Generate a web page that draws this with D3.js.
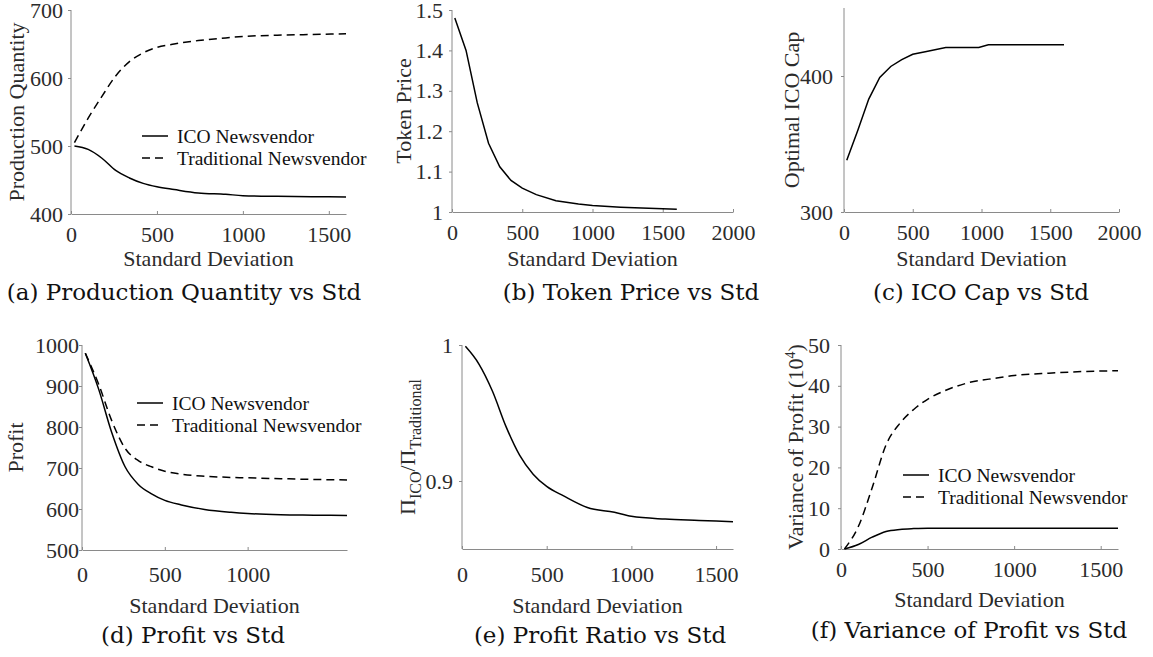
<!DOCTYPE html>
<html>
<head>
<meta charset="utf-8">
<script src="https://cdn.jsdelivr.net/npm/d3@7"></script>
<style>
  body { margin: 0; background: #fff; }
  svg { display: block; }
</style>
</head>
<body>
<svg id="fig" width="1153" height="657"></svg>
<script>
// values
const stdDev      = [20, 100, 180, 260, 340, 420, 500, 600, 740, 900, 1000, 1200, 1400, 1600];
const qtyICO      = [500, 495, 482, 464, 453, 445, 440, 436, 431, 429, 427, 426, 425.5, 425];
const qtyTrad     = [505, 541, 573, 603, 624, 637, 645, 650, 655, 659, 661, 663, 664, 665];
const tokenPrice  = [1.48, 1.40, 1.27, 1.17, 1.112, 1.078, 1.059, 1.043, 1.028, 1.02, 1.016, 1.012, 1.009, 1.007];
const capStd      = [20, 100, 180, 260, 340, 420, 500, 600, 740, 980, 1050, 1600];
const icoCap      = [338, 360, 383, 399, 407, 412, 416, 418, 421, 421, 423, 423];
const profitICO   = [980, 893, 786, 703, 660, 637, 621, 610, 599, 592, 589, 586, 585, 584];
const profitTrad  = [980, 905, 815, 748, 718, 703, 692, 685, 680, 677, 676, 674, 672, 671];
const profitRatio = [0.999, 0.986, 0.966, 0.940, 0.919, 0.905, 0.896, 0.889, 0.8805, 0.877, 0.874, 0.872, 0.871, 0.870];
const varICO      = [0, 1.1, 2.9, 4.3, 4.8, 5.0, 5.1, 5.1, 5.1, 5.1, 5.1, 5.1, 5.1, 5.1];
const varTrad     = [0, 5.5, 15, 25.5, 30.8, 34.2, 36.7, 38.8, 40.8, 41.9, 42.5, 43.1, 43.5, 43.7];

const xTicks1600   = [0, 500, 1000, 1500];
const xTicks2000   = [0, 500, 1000, 1500, 2000];
const xTicksProfit = [0, 500, 1000];
const yTicksQty    = [400, 500, 600, 700];
const yTicksPrice  = [1, 1.1, 1.2, 1.3, 1.4, 1.5];
const yTicksCap    = [300, 400];
const yTicksProfit = [500, 600, 700, 800, 900, 1000];
const yTicksRatio  = [0.9, 1];
const yTicksVar    = [0, 10, 20, 30, 40, 50];

const legendNames = ["ICO Newsvendor", "Traditional Newsvendor"];
const xTitle = "Standard Deviation";

const SERIF = "'Liberation Serif', 'Times New Roman', serif";
const CAPTION_FONT = "'DejaVu Serif', serif";
const AXIS_COLOR = "#8a8a8a";
const TEXT_COLOR = "#2b2b2b";
const DASH = "8,5";

const svg = d3.select("svg#fig");
const zip = (xs, ys) => xs.map((x, i) => [x, ys[i]]);
const trimNum = d => (+d.toFixed(2)).toString();

function panel(p) {
	const x = d3.scaleLinear().domain(p.xDomain).range([p.left, p.right]);
	const y = d3.scaleLinear().domain(p.yDomain).range([p.bottom, p.top]);
	const g = svg.append("g");

	const yAxis = d3.axisLeft(y).tickValues(p.yTicks).tickFormat(p.yFormat || trimNum)
		.tickSize(3).tickSizeOuter(0).tickPadding(p.yPad);
	const xAxis = d3.axisBottom(x).tickValues(p.xTicks).tickFormat(trimNum)
		.tickSize(-3).tickSizeOuter(0).tickPadding(p.xPad);

	const gy = g.append("g").attr("transform", `translate(${p.left},0)`).call(yAxis);
	const gx = g.append("g").attr("transform", `translate(0,${p.bottom})`).call(xAxis);
	[gx, gy].forEach(a => {
		a.attr("font-family", SERIF).attr("font-size", 22);
		a.selectAll("path, line").attr("stroke", AXIS_COLOR);
		a.selectAll("text").attr("fill", TEXT_COLOR);
	});
	// the y axis line should reach the top of the domain only
	gy.select("path.domain").attr("d", `M0,${p.top}V${p.bottom}`);

	const line = d3.line().x(d => x(d[0])).y(d => y(d[1])).curve(p.curve || d3.curveMonotoneX);
	p.series.forEach(s => {
		g.append("path").datum(s.data)
			.attr("fill", "none").attr("stroke", "#000").attr("stroke-width", 1.5)
			.attr("stroke-dasharray", s.dashed ? DASH : null)
			.attr("d", line);
	});

	// axis titles
	g.append("text").attr("x", (p.left + p.right) / 2).attr("y", p.xTitleY)
		.attr("text-anchor", "middle").attr("font-family", SERIF).attr("font-size", 22)
		.attr("fill", TEXT_COLOR).text(xTitle);
	const yt = g.append("text")
		.attr("transform", `translate(${p.yTitleX},${(p.top + p.bottom) / 2}) rotate(-90)`)
		.attr("text-anchor", "middle").attr("font-family", SERIF).attr("font-size", 22)
		.attr("fill", TEXT_COLOR);
	if (typeof p.yTitle === "string") yt.text(p.yTitle);
	else p.yTitle(yt);

	// legend
	if (p.legend) {
		legendNames.forEach((name, i) => {
			const cy = p.legend.y + i * 22;
			g.append("line").attr("x1", p.legend.x).attr("x2", p.legend.x + 26)
				.attr("y1", cy).attr("y2", cy)
				.attr("stroke", "#000").attr("stroke-width", 1.5)
				.attr("stroke-dasharray", i ? DASH : null);
			g.append("text").attr("x", p.legend.x + 35).attr("y", cy).attr("dy", "0.35em")
				.attr("font-family", SERIF).attr("font-size", 19.5).attr("fill", "#111").text(name);
		});
	}

	// sub-figure caption
	g.append("text").attr("x", p.capX).attr("y", p.capY).attr("text-anchor", "middle")
		.attr("font-family", CAPTION_FONT).attr("font-size", 23).attr("fill", "#111").text(p.caption);
}

panel({
	left: 71, right: 346, top: 10, bottom: 214,
	xDomain: [0, 1600], yDomain: [400, 700], xTicks: xTicks1600, yTicks: yTicksQty,
	yPad: 5, xPad: 12.5, xTitleY: 266, yTitleX: 24, yTitle: "Production Quantity",
	series: [{ data: zip(stdDev, qtyICO) }, { data: zip(stdDev, qtyTrad), dashed: true }],
	legend: { x: 142, y: 136 },
	caption: "(a) Production Quantity vs Std", capX: 184, capY: 300
});

panel({
	left: 452, right: 733, top: 10, bottom: 212,
	xDomain: [0, 2000], yDomain: [1, 1.5], xTicks: xTicks2000, yTicks: yTicksPrice,
	yPad: 6, xPad: 12, xTitleY: 266, yTitleX: 411, yTitle: "Token Price",
	series: [{ data: zip(stdDev, tokenPrice) }],
	curve: d3.curveLinear,
	caption: "(b) Token Price vs Std", capX: 631, capY: 300
});

panel({
	left: 844, right: 1119, top: 8, bottom: 212,
	xDomain: [0, 2000], yDomain: [300, 450], xTicks: xTicks2000, yTicks: yTicksCap,
	yPad: 8, xPad: 12, xTitleY: 266, yTitleX: 799, yTitle: "Optimal ICO Cap",
	series: [{ data: zip(capStd, icoCap) }],
	curve: d3.curveLinear,
	caption: "(c) ICO Cap vs Std", capX: 981, capY: 300
});

panel({
	left: 82, right: 347, top: 345, bottom: 550,
	xDomain: [0, 1600], yDomain: [500, 1000], xTicks: xTicksProfit, yTicks: yTicksProfit,
	yPad: 0, xPad: 16, xTitleY: 613, yTitleX: 23, yTitle: "Profit",
	series: [{ data: zip(stdDev, profitICO) }, { data: zip(stdDev, profitTrad), dashed: true }],
	legend: { x: 137, y: 403 },
	caption: "(d) Profit vs Std", capX: 193, capY: 643
});

panel({
	left: 462, right: 733, top: 345, bottom: 549,
	xDomain: [0, 1600], yDomain: [0.85, 1], xTicks: xTicks1600, yTicks: yTicksRatio,
	yFormat: d => d === 1 ? "1" : "0.9",
	yPad: 6, xPad: 17, xTitleY: 613, yTitleX: 415,
	yTitle: t => {
		t.append("tspan").text("\u03A0");
		t.append("tspan").attr("dy", 6).attr("font-size", 16).text("ICO");
		t.append("tspan").attr("dy", -6).text("/\u03A0");
		t.append("tspan").attr("dy", 6).attr("font-size", 16).text("Traditional");
	},
	series: [{ data: zip(stdDev, profitRatio) }],
	caption: "(e) Profit Ratio vs Std", capX: 600, capY: 643
});

panel({
	left: 841, right: 1118, top: 345, bottom: 549,
	xDomain: [0, 1600], yDomain: [0, 50], xTicks: xTicks1600, yTicks: yTicksVar,
	yPad: 8, xPad: 12, xTitleY: 607, yTitleX: 803,
	yTitle: t => {
		t.append("tspan").text("Variance of Profit (10");
		t.append("tspan").attr("dy", -8).attr("font-size", 14).text("4");
		t.append("tspan").attr("dy", 8).text(")");
	},
	series: [{ data: zip(stdDev, varICO) }, { data: zip(stdDev, varTrad), dashed: true }],
	legend: { x: 903, y: 475 },
	caption: "(f) Variance of Profit vs Std", capX: 969, capY: 638
});
</script>
</body>
</html>
